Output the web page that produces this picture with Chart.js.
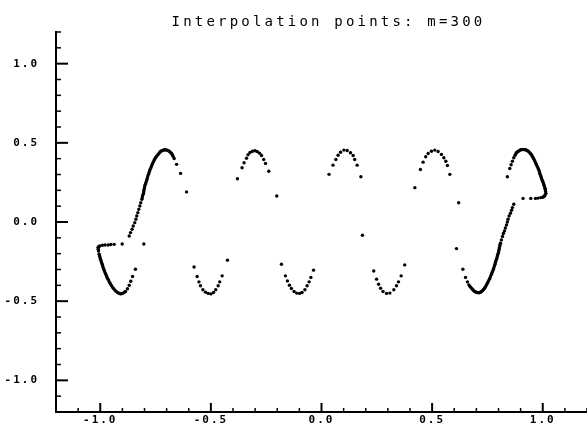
<!DOCTYPE html>
<html>
<head>
<meta charset="utf-8">
<title>Interpolation points</title>
<script src="https://cdn.jsdelivr.net/npm/chart.js@4.4.0/dist/chart.umd.min.js"></script>
<style>
  html, body { margin: 0; padding: 0; background: #fff; }
  canvas { display: block; }
</style>
</head>
<body>
<canvas id="chart" width="587" height="427"></canvas>
<script>
const titleText = 'Interpolation points: m=300';
const xTicks = [-1.0, -0.5, 0.0, 0.5, 1.0];
const yTicks = [-1.0, -0.5, 0.0, 0.5, 1.0];

// left end: short flat run, lower hook and the long rising branch
const leftX = [
  -1.010, -1.002, -0.990, -0.978, -0.964, -0.952, -0.937, -0.901, -0.803,
  -1.008, -1.005, -1.001, -0.996, -0.991, -0.987, -0.981, -0.975, -0.969, -0.961,
  -0.953, -0.944, -0.934, -0.922, -0.908, -0.897, -0.886, -0.877, -0.869, -0.862,
  -0.854, -0.841,
  -0.869, -0.863, -0.856, -0.851, -0.844, -0.839, -0.835, -0.830, -0.826, -0.821,
  -0.817, -0.812, -0.809, -0.804, -0.802, -0.799, -0.794, -0.789, -0.785, -0.780,
  -0.775, -0.768, -0.762, -0.755, -0.747, -0.738, -0.729, -0.719, -0.708, -0.698,
  -0.687, -0.678, -0.671, -0.666, -0.655, -0.637, -0.610,
  // packed stretches of the hook and the rising branch
  -1.006, -1.009, -1.003, -0.999, -0.994, -0.989, -0.984, -0.978, -0.972, -0.965,
  -0.957, -0.949, -0.939, -0.928, -0.915, -0.902, -0.891,
  -0.810, -0.806, -0.803, -0.800, -0.796, -0.791, -0.787, -0.782, -0.777, -0.771,
  -0.765, -0.758, -0.751, -0.742, -0.733, -0.724, -0.713, -0.703, -0.692, -0.682,
  -0.674
];
const leftY = [
  -0.161, -0.151, -0.147, -0.145, -0.145, -0.142, -0.141, -0.139, -0.139,
  -0.183, -0.204, -0.224, -0.246, -0.267, -0.287, -0.309, -0.330, -0.350, -0.372,
  -0.393, -0.413, -0.430, -0.445, -0.454, -0.449, -0.439, -0.422, -0.399, -0.374,
  -0.344, -0.298,
  -0.088, -0.067, -0.046, -0.025, -0.004, 0.017, 0.038, 0.059, 0.080, 0.101,
  0.122, 0.143, 0.164, 0.185, 0.206, 0.227, 0.248, 0.269, 0.290, 0.311,
  0.332, 0.353, 0.374, 0.395, 0.412, 0.428, 0.444, 0.452, 0.456, 0.454,
  0.445, 0.433, 0.416, 0.401, 0.364, 0.307, 0.190,
  -0.155, -0.172, -0.214, -0.235, -0.257, -0.277, -0.298, -0.320, -0.340, -0.361,
  -0.383, -0.403, -0.422, -0.438, -0.450, -0.452, -0.444,
  0.154, 0.175, 0.196, 0.217, 0.238, 0.259, 0.280, 0.301, 0.322, 0.343,
  0.364, 0.385, 0.404, 0.420, 0.436, 0.448, 0.455, 0.455, 0.450, 0.439,
  0.425
];

// sparse middle: alternating arcs
const midX = [
  -0.576, -0.562, -0.554, -0.547, -0.536, -0.524, -0.512, -0.500, -0.488, -0.478,
  -0.467, -0.460, -0.449, -0.425,
  -0.380, -0.359, -0.350, -0.339, -0.332, -0.323, -0.312, -0.301, -0.291, -0.280,
  -0.271, -0.261, -0.253, -0.238, -0.202,
  -0.181, -0.163, -0.154, -0.145, -0.136, -0.124, -0.112, -0.099, -0.088, -0.075,
  -0.065, -0.056, -0.048, -0.036,
  0.034, 0.052, 0.065, 0.075, 0.086, 0.101, 0.116, 0.131, 0.143, 0.150,
  0.161, 0.178, 0.185,
  0.236, 0.249, 0.258, 0.267, 0.278, 0.294, 0.309, 0.327, 0.339, 0.348,
  0.360, 0.376,
  0.422, 0.447, 0.459, 0.471, 0.482, 0.497, 0.512, 0.527, 0.542, 0.553,
  0.562, 0.569, 0.580, 0.620, 0.610
];
const midY = [
  -0.284, -0.344, -0.378, -0.403, -0.428, -0.443, -0.451, -0.454, -0.445, -0.428,
  -0.403, -0.378, -0.340, -0.241,
  0.273, 0.343, 0.374, 0.403, 0.425, 0.439, 0.447, 0.450, 0.445, 0.435,
  0.420, 0.395, 0.370, 0.321, 0.164,
  -0.267, -0.340, -0.372, -0.399, -0.420, -0.439, -0.449, -0.451, -0.445, -0.428,
  -0.403, -0.378, -0.350, -0.304,
  0.301, 0.359, 0.395, 0.422, 0.441, 0.454, 0.452, 0.437, 0.420, 0.395,
  0.359, 0.286, -0.084,
  -0.309, -0.361, -0.393, -0.418, -0.439, -0.451, -0.449, -0.428, -0.403, -0.378,
  -0.340, -0.271,
  0.217, 0.332, 0.378, 0.412, 0.433, 0.447, 0.454, 0.445, 0.427, 0.406,
  0.384, 0.357, 0.301, 0.122, -0.168
];

// right end: falling branch through the trough, flat run and upper hook
const rightX = [
  0.639, 0.651, 0.660, 0.666, 0.675, 0.684, 0.693, 0.702, 0.711, 0.720,
  0.729, 0.737, 0.744, 0.751, 0.759, 0.765, 0.771, 0.777, 0.782, 0.786,
  0.791, 0.795, 0.800, 0.803, 0.806, 0.809, 0.813, 0.818, 0.822, 0.827,
  0.831, 0.836, 0.840, 0.843, 0.848, 0.854, 0.859, 0.863, 0.869,
  0.911, 0.946, 0.967, 0.979, 0.991, 1.000, 1.008, 1.014, 1.012, 1.009,
  1.005, 1.000, 0.995, 0.991, 0.986, 0.981, 0.974, 0.968, 0.962, 0.956,
  0.949, 0.941, 0.932, 0.922, 0.911, 0.901, 0.890, 0.881, 0.875, 0.869,
  0.863, 0.857, 0.851, 0.840,
  // packed stretches of the trough and the upper hook
  0.670, 0.680, 0.688, 0.697, 0.706, 0.715, 0.724, 0.733, 0.740, 0.747,
  0.755, 0.762, 0.768, 0.774, 0.779, 0.784, 0.788, 0.793, 0.797, 0.801,
  0.804, 0.807,
  1.004, 1.011, 1.013, 1.011, 1.007, 1.003, 0.998, 0.993, 0.988, 0.984,
  0.978, 0.971, 0.965, 0.959, 0.952, 0.945, 0.937, 0.927, 0.916, 0.906,
  0.895, 0.885, 0.878
];
const rightY = [
  -0.298, -0.350, -0.378, -0.397, -0.413, -0.428, -0.439, -0.445, -0.447, -0.443,
  -0.432, -0.418, -0.403, -0.382, -0.361, -0.340, -0.319, -0.298, -0.277, -0.256,
  -0.235, -0.214, -0.193, -0.172, -0.151, -0.134, -0.113, -0.092, -0.073, -0.057,
  -0.038, -0.019, 0.000, 0.017, 0.038, 0.055, 0.074, 0.091, 0.112,
  0.149, 0.149, 0.149, 0.151, 0.154, 0.156, 0.164, 0.181, 0.202, 0.217,
  0.236, 0.255, 0.273, 0.292, 0.311, 0.332, 0.353, 0.372, 0.391, 0.408,
  0.425, 0.437, 0.450, 0.456, 0.458, 0.456, 0.447, 0.437, 0.422, 0.406,
  0.384, 0.362, 0.338, 0.286,
  -0.405, -0.421, -0.434, -0.442, -0.446, -0.445, -0.438, -0.425, -0.411, -0.393,
  -0.372, -0.351, -0.330, -0.309, -0.288, -0.267, -0.246, -0.225, -0.204, -0.183,
  -0.162, -0.143,
  0.160, 0.172, 0.192, 0.210, 0.227, 0.246, 0.264, 0.283, 0.302, 0.322,
  0.343, 0.363, 0.382, 0.400, 0.417, 0.431, 0.444, 0.453, 0.457, 0.457,
  0.452, 0.442, 0.430
];

const toPoints = (xs, ys) => xs.map((x, i) => ({ x: x, y: ys[i] }));
const points = [
  ...toPoints(leftX, leftY),
  ...toPoints(midX, midY),
  ...toPoints(rightX, rightY)
];

const labelFont = { family: 'DejaVu Sans Mono', size: 11, weight: 'bold' };

// ticks point into the plot: minor every 0.1, longer ones on the labelled values
const frame = {
  id: 'frame',
  beforeDraw(chart) {
    chart.ctx.letterSpacing = '2px';
  },
  afterDraw(chart) {
    const { ctx, chartArea, scales } = chart;
    ctx.save();
    ctx.strokeStyle = '#000';
    for (let i = -12; i <= 12; i++) {
      const major = i % 5 === 0;
      ctx.lineWidth = major ? 2 : 1.5;
      const px = scales.x.getPixelForValue(i / 10);
      ctx.beginPath();
      ctx.moveTo(px, chartArea.bottom);
      ctx.lineTo(px, chartArea.bottom - (major ? 9 : 4));
      ctx.stroke();
      const py = scales.y.getPixelForValue(i / 10);
      ctx.beginPath();
      ctx.moveTo(chartArea.left, py);
      ctx.lineTo(chartArea.left + (major ? 12 : 5), py);
      ctx.stroke();
    }
    ctx.letterSpacing = '3.2px';
    ctx.font = '14px "DejaVu Sans Mono"';
    ctx.fillStyle = '#000';
    ctx.textAlign = 'center';
    ctx.textBaseline = 'middle';
    ctx.fillText(titleText, (chartArea.left + chartArea.right) / 2 + 7, 22);
    ctx.restore();
  }
};

new Chart(document.getElementById('chart'), {
  type: 'scatter',
  data: {
    datasets: [{
      data: points,
      pointRadius: 1.7,
      pointHoverRadius: 1.7,
      pointBorderWidth: 0,
      pointBackgroundColor: '#000',
      borderColor: '#000'
    }]
  },
  options: {
    responsive: false,
    devicePixelRatio: 1,
    animation: false,
    events: [],
    layout: { padding: { top: 32, right: 0, bottom: 0, left: 0 }, autoPadding: false },
    plugins: {
      legend: { display: false },
      tooltip: { enabled: false },
      title: { display: false }
    },
    scales: {
      x: {
        type: 'linear',
        min: -1.2,
        max: 1.2,
        grid: { display: false, drawTicks: false },
        border: { display: true, color: '#000', width: 2 },
        ticks: {
          color: '#000',
          font: labelFont,
          padding: 2,
          autoSkip: false,
          maxRotation: 0,
          callback: v => v.toFixed(1)
        },
        afterBuildTicks: s => { s.ticks = xTicks.map(v => ({ value: v })); },
        afterFit: s => {
          s.height = 15;
          s.paddingLeft = 0;
          s.paddingRight = 0;
        }
      },
      y: {
        type: 'linear',
        min: -1.2,
        max: 1.2,
        grid: { display: false, drawTicks: false },
        border: { display: true, color: '#000', width: 2 },
        ticks: {
          color: '#000',
          font: labelFont,
          padding: 17,
          autoSkip: false,
          callback: v => v.toFixed(1)
        },
        afterBuildTicks: s => { s.ticks = yTicks.map(v => ({ value: v })); },
        afterFit: s => {
          s.width = 56;
          s.paddingTop = 0;
          s.paddingBottom = 0;
        }
      }
    }
  },
  plugins: [frame]
});
</script>
</body>
</html>
